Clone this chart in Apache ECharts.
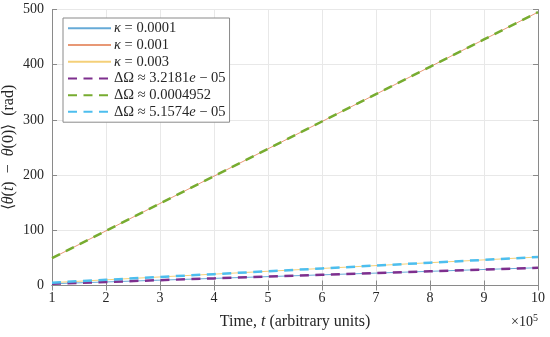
<!DOCTYPE html>
<html><head><meta charset="utf-8">
<script src="https://cdn.jsdelivr.net/npm/echarts@6/dist/echarts.min.js"></script>
<style>html,body{margin:0;padding:0;background:#fff}#c{width:550px;height:337px}</style>
</head><body><div id="c"></div>
<script>
// time, in units of 1e5 (arbitrary units)
const tValues = [1, 2, 3, 4, 5, 6, 7, 8, 9, 10];
const kappa0001 = [3.2, 6.4, 9.7, 12.9, 16.1, 19.3, 22.5, 25.7, 29.0, 32.2];
const kappa001  = [49.5, 99.0, 148.6, 198.1, 247.6, 297.1, 346.6, 396.2, 445.7, 495.2];
const kappa003  = [5.2, 10.3, 15.5, 20.6, 25.8, 30.9, 36.1, 41.3, 46.4, 51.6];
const fitPurple = [3.2, 6.4, 9.7, 12.9, 16.1, 19.3, 22.5, 25.7, 29.0, 32.2];
const fitGreen  = [49.5, 99.0, 148.6, 198.1, 247.6, 297.1, 346.6, 396.2, 445.7, 495.2];
const fitCyan   = [5.2, 10.3, 15.5, 20.6, 25.8, 30.9, 36.1, 41.3, 46.4, 51.6];
const seriesNames = ['κ = 0.0001', 'κ = 0.001', 'κ = 0.003', 'ΔΩ ≈ 3.2181e − 05', 'ΔΩ ≈ 0.0004952', 'ΔΩ ≈ 5.1574e − 05'];
const legendRich = [
  '{i|κ} = 0.0001', '{i|κ} = 0.001', '{i|κ} = 0.003',
  'ΔΩ ≈ 3.2181{i|e} − 05', 'ΔΩ ≈ 0.0004952', 'ΔΩ ≈ 5.1574{i|e} − 05'
];
const xTicks = [1, 2, 3, 4, 5, 6, 7, 8, 9, 10];
const yTicks = [0, 100, 200, 300, 400, 500];

const FONT = 'Liberation Serif';
const INK = '#262626';
const pair = arr => tValues.map((t, i) => [t, arr[i]]);
const thin = (name, data, color) => ({
  name, type: 'line', data: pair(data), symbol: 'none', z: 2,
  lineStyle: { color, width: 1, opacity: 0.6 }, itemStyle: { color },
  animation: false
});
const dashed = (name, data, color) => ({
  name, type: 'line', data: pair(data), symbol: 'none', z: 3,
  lineStyle: { color, width: 2.5, type: [9, 6.5] }, itemStyle: { color },
  animation: false
});

const axisCommon = {
  axisLine: { show: true, lineStyle: { color: '#8a8a8a', width: 1 } },
  axisTick: { show: true, inside: true, length: 5, lineStyle: { color: '#8a8a8a' } }
};
const richName = {
  r: { fontFamily: FONT, fontSize: 16, color: INK },
  i: { fontFamily: FONT, fontSize: 16, fontStyle: 'italic', color: INK }
};

const chart = echarts.init(document.getElementById('c'), null, { renderer: 'canvas' });
chart.setOption({
  animation: false,
  backgroundColor: '#fff',
  grid: { left: 52, right: 12, top: 9.5, bottom: 51.5, containLabel: false, outerBoundsMode: 'none' },
  xAxis: [
    Object.assign({
      type: 'value', min: xTicks[0], max: xTicks[xTicks.length - 1], interval: 1, position: 'bottom',
      axisLabel: { fontFamily: FONT, fontSize: 14, color: INK, margin: 6 },
      splitLine: { show: true, lineStyle: { color: '#e8e8e8', width: 1 } },
      name: '{r|Time, }{i|t}{r| (arbitrary units)}', nameLocation: 'middle', nameGap: 28,
      nameTextStyle: { fontFamily: FONT, fontSize: 16, color: INK, rich: richName }
    }, axisCommon),
    Object.assign({
      type: 'value', min: xTicks[0], max: xTicks[xTicks.length - 1], interval: 1, position: 'top',
      axisLabel: { show: false }, splitLine: { show: false }
    }, axisCommon)
  ],
  yAxis: [
    Object.assign({
      type: 'value', min: yTicks[0], max: yTicks[yTicks.length - 1], interval: 100, position: 'left',
      axisLabel: { fontFamily: FONT, fontSize: 14, color: INK, margin: 8 },
      splitLine: { show: true, lineStyle: { color: '#e8e8e8', width: 1 } },
      name: '{r|⟨}{i|θ}{r|(}{i|t}{r|)  −  }{i|θ}{r|(0)⟩  (rad)}', nameLocation: 'middle', nameGap: 35,
      nameMoveOverlap: false,
      nameTextStyle: { fontFamily: FONT, fontSize: 16, color: INK, rich: richName }
    }, axisCommon),
    Object.assign({
      type: 'value', min: yTicks[0], max: yTicks[yTicks.length - 1], interval: 100, position: 'right',
      axisLabel: { show: false }, splitLine: { show: false }
    }, axisCommon)
  ],
  legend: {
    orient: 'vertical', left: 63, top: 18,
    itemWidth: 43, itemHeight: 14, itemGap: 0,
    padding: [2, 4, 2, 4],
    backgroundColor: '#fff', borderColor: '#8a8a8a', borderWidth: 1,
    itemStyle: { opacity: 0 },
    data: seriesNames,
    formatter: name => legendRich[seriesNames.indexOf(name)],
    textStyle: { fontFamily: FONT, fontSize: 14.5, lineHeight: 16.7, color: INK, padding: [0, 0, 0, -2],
      rich: { i: { fontFamily: FONT, fontSize: 14.5, lineHeight: 16.7, fontStyle: 'italic', color: INK } } }
  },
  graphic: [{
    type: 'text', right: 12, top: 313,
    style: { text: '×10{s|5}', fontFamily: FONT, fontSize: 14, fill: INK,
      rich: { s: { fontFamily: FONT, fontSize: 10, verticalAlign: 'top', fill: INK, padding: [0, 0, 8, 0] } } }
  }],
  series: [
    thin(seriesNames[0], kappa0001, '#0072BD'),
    thin(seriesNames[1], kappa001, '#D95319'),
    thin(seriesNames[2], kappa003, '#EDB120'),
    dashed(seriesNames[3], fitPurple, '#7E2F8E'),
    dashed(seriesNames[4], fitGreen, '#77AC30'),
    dashed(seriesNames[5], fitCyan, '#4DBEEE')
  ]
});
</script></body></html>
